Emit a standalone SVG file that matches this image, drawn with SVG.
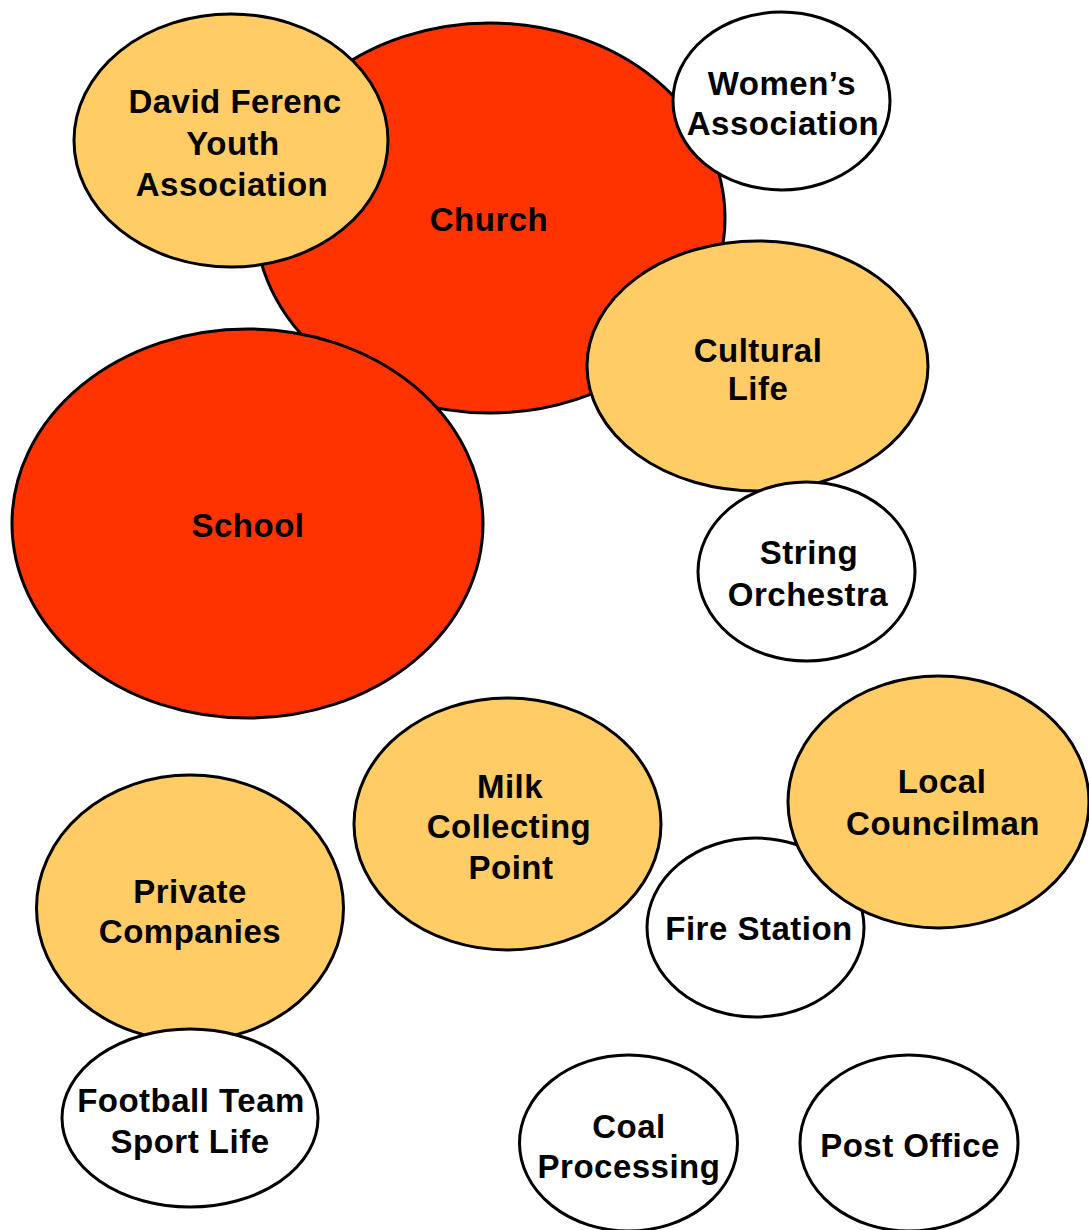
<svg xmlns="http://www.w3.org/2000/svg" width="1089" height="1230" viewBox="0 0 1089 1230">
  <style>
    .node { stroke: #000; stroke-width: 3; }
    .core { fill: #FF3300; }
    .main { fill: #FFCC66; }
    .minor { fill: #FFFFFF; }
    text { font-family: "Liberation Sans", Arial, sans-serif; font-weight: bold; font-size: 33px; letter-spacing: 0.5px; fill: #000; text-anchor: middle; }
  </style>
  <rect width="1089" height="1230" fill="#FFFFFF"/>

  <g id="church">
    <ellipse class="node core" cx="490" cy="218" rx="235" ry="195"/>
    <text x="489" y="231">Church</text>
  </g>
  <g id="david-ferenc-youth-association">
    <ellipse class="node main" cx="231" cy="140.5" rx="157" ry="126.5"/>
    <text x="235" y="113">David Ferenc</text>
    <text x="233" y="155">Youth</text>
    <text x="232" y="196">Association</text>
  </g>
  <g id="womens-association">
    <ellipse class="node minor" cx="781.5" cy="101" rx="108.5" ry="89"/>
    <text x="782" y="95">Women’s</text>
    <text x="783" y="135">Association</text>
  </g>
  <g id="cultural-life">
    <ellipse class="node main" cx="757.5" cy="366" rx="170.5" ry="125"/>
    <text x="758" y="362">Cultural</text>
    <text x="758" y="400">Life</text>
  </g>
  <g id="school">
    <ellipse class="node core" cx="247.5" cy="523.5" rx="235.5" ry="194.5"/>
    <text x="248" y="537">School</text>
  </g>
  <g id="string-orchestra">
    <ellipse class="node minor" cx="806.5" cy="571.5" rx="108.5" ry="89.5"/>
    <text x="809" y="564">String</text>
    <text x="808" y="606">Orchestra</text>
  </g>
  <g id="milk-collecting-point">
    <ellipse class="node main" cx="507.5" cy="824" rx="153.5" ry="126"/>
    <text x="510" y="798">Milk</text>
    <text x="509" y="838">Collecting</text>
    <text x="511" y="879">Point</text>
  </g>
  <g id="fire-station">
    <ellipse class="node minor" cx="755.5" cy="927.5" rx="108.5" ry="89.5"/>
    <text x="759" y="940">Fire Station</text>
  </g>
  <g id="local-councilman">
    <ellipse class="node main" cx="938.5" cy="802" rx="150.5" ry="126"/>
    <text x="942" y="793">Local</text>
    <text x="943" y="835">Councilman</text>
  </g>
  <g id="private-companies">
    <ellipse class="node main" cx="190" cy="908" rx="153.5" ry="133"/>
    <text x="190" y="903">Private</text>
    <text x="190" y="943">Companies</text>
  </g>
  <g id="football-team-sport-life">
    <ellipse class="node minor" cx="190" cy="1118" rx="128" ry="89"/>
    <text x="191" y="1112">Football Team</text>
    <text x="190" y="1153">Sport Life</text>
  </g>
  <g id="coal-processing">
    <ellipse class="node minor" cx="628.5" cy="1143" rx="109" ry="88"/>
    <text x="629" y="1138">Coal</text>
    <text x="629" y="1178">Processing</text>
  </g>
  <g id="post-office">
    <ellipse class="node minor" cx="909" cy="1143" rx="109" ry="88"/>
    <text x="910" y="1157">Post Office</text>
  </g>
</svg>
